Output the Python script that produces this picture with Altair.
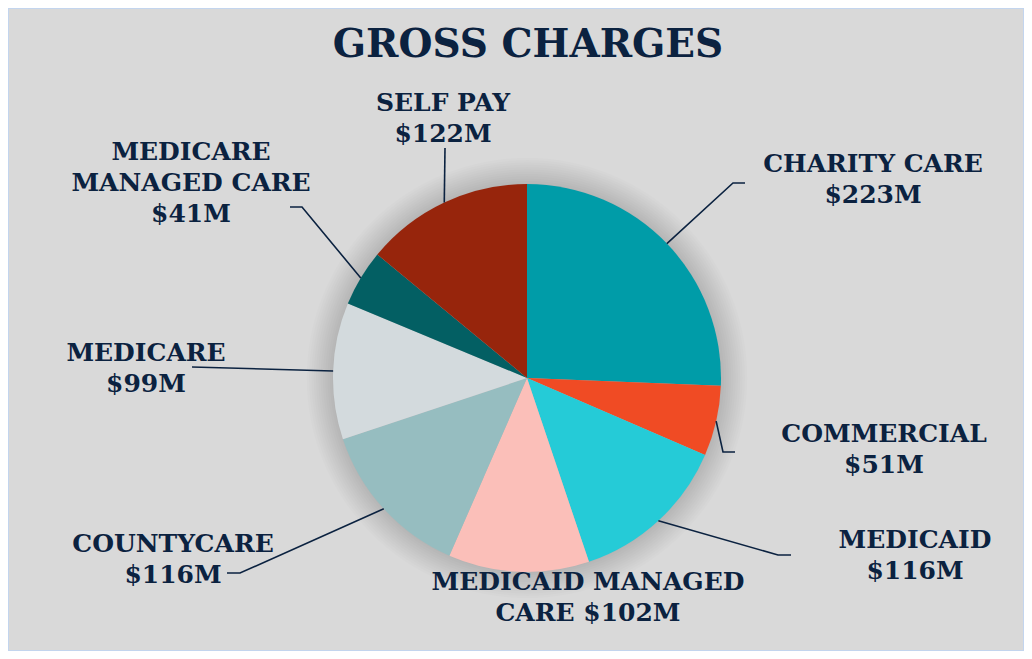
import math
import altair as alt
import pandas as pd

# ---- data ----
categories = ["CHARITY CARE", "COMMERCIAL", "MEDICAID", "MEDICAID MANAGED CARE",
              "COUNTYCARE", "MEDICARE", "MEDICARE MANAGED CARE", "SELF PAY"]
values = [223, 51, 116, 102, 116, 99, 41, 122]
value_labels = ["$223M", "$51M", "$116M", "$102M", "$116M", "$99M", "$41M", "$122M"]
label_texts = ["CHARITY CARE\n$223M", "COMMERCIAL\n$51M", "MEDICAID\n$116M",
               "MEDICAID MANAGED\nCARE $102M", "COUNTYCARE\n$116M", "MEDICARE\n$99M",
               "MEDICARE\nMANAGED CARE\n$41M", "SELF PAY\n$122M"]
colors = ["#009ca8", "#f04b24", "#25cbd7", "#fbbfb9", "#96bdc0", "#d3dadd", "#035f63", "#97250c"]

# ---- layout ----
W, H = 1016, 643
CX, CY, R = 519, 370, 194
FONT = "DejaVu Serif"
TEXT_COLOR = "#0b2240"
# label anchor (center x, first baseline y)
label_pos = {
    "CHARITY CARE": (865, 164), "COMMERCIAL": (876, 434), "MEDICAID": (907, 540),
    "MEDICAID MANAGED CARE": (580, 582), "COUNTYCARE": (165, 544), "MEDICARE": (138, 353),
    "MEDICARE MANAGED CARE": (183, 152), "SELF PAY": (435, 103),
}
# leader elbow and end points
leaders = {
    "CHARITY CARE": [(725, 175), (737, 175)],
    "COMMERCIAL": [(715, 444), (727, 444)],
    "MEDICAID": [(770, 547), (783, 547)],
    "COUNTYCARE": [(232, 565), (219, 565)],
    "MEDICARE": [(184, 359)],
    "MEDICARE MANAGED CARE": [(294, 199), (282, 199)],
    "SELF PAY": [(437, 140)],
}

df = pd.DataFrame({"category": categories, "value": values, "order": list(range(len(values)))})

# leader start points at the mid-angle of each slice on the pie edge
total = sum(values)
rows = []
cum = 0
for cat, v in zip(categories, values):
    mid = (cum + v / 2) / total * 2 * math.pi
    cum += v
    if cat not in leaders:
        continue
    pts = [(CX + R * math.sin(mid), CY - R * math.cos(mid))] + leaders[cat]
    for i, (px, py) in enumerate(pts):
        rows.append({"seg": cat, "i": i, "px": px, "py": py})
lead_df = pd.DataFrame(rows)

lab_df = pd.DataFrame({
    "text": label_texts,
    "lx": [label_pos[c][0] for c in categories],
    "ly": [label_pos[c][1] for c in categories],
})

# soft glow behind the pie: stacked translucent discs
one = pd.DataFrame({"k": [0]})
shadow_layers = [
    alt.Chart(one).mark_arc(radius=R + 1 + 2.3 * k, fill="#000000", fillOpacity=0.011, stroke=None).encode(
        x=alt.value(CX), y=alt.value(CY), theta=alt.value(2 * math.pi)
    )
    for k in range(12)
]

pie = alt.Chart(df).mark_arc(radius=R).encode(
    x=alt.value(CX), y=alt.value(CY),
    theta=alt.Theta("value:Q", stack=True),
    order=alt.Order("order:Q"),
    color=alt.Color("category:N", scale=alt.Scale(domain=categories, range=colors), legend=None),
)

lines = alt.Chart(lead_df).mark_line(color=TEXT_COLOR, strokeWidth=1.6).encode(
    x=alt.X("px:Q", scale=None, axis=None),
    y=alt.Y("py:Q", scale=None, axis=None),
    detail="seg:N", order="i:Q",
)

labels = alt.Chart(lab_df).mark_text(
    font=FONT, fontWeight="bold", fontSize=25, color=TEXT_COLOR,
    align="center", baseline="alphabetic", lineBreak="\n", lineHeight=31,
).encode(
    x=alt.X("lx:Q", scale=None, axis=None),
    y=alt.Y("ly:Q", scale=None, axis=None),
    text="text:N",
)

title = alt.Chart(pd.DataFrame({"t": ["GROSS CHARGES"]})).mark_text(
    font=FONT, fontWeight="bold", fontSize=39, color=TEXT_COLOR, align="center", baseline="alphabetic",
).encode(x=alt.value(520), y=alt.value(49), text="t:N")

chart = alt.layer(*shadow_layers, pie, lines, labels, title).properties(
    width=W, height=H, padding=0, background="#d9d9d9", autosize="none",
).configure_view(stroke="#c3d5ee", strokeWidth=2)

chart.save("out.html", embed_options={"renderer": "svg", "actions": False})
